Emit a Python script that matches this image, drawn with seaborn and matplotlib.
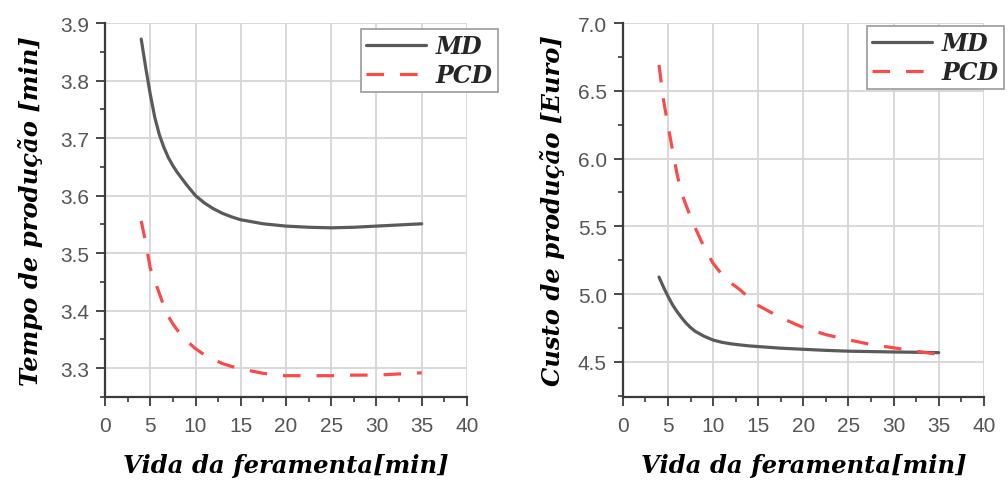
import matplotlib
matplotlib.use("Agg")
import matplotlib.pyplot as plt
from matplotlib.ticker import MultipleLocator
import seaborn as sns
import pandas as pd

# ---- data ----
x_vals = [4, 4.5, 5, 5.5, 6, 6.5, 7, 7.5, 8, 9, 10, 11, 12, 13, 14, 15, 17.5, 20, 22.5, 25, 27.5, 30, 32.5, 35]

tempo_md = [3.872, 3.822, 3.776, 3.736, 3.706, 3.684, 3.666, 3.652, 3.640, 3.619, 3.600, 3.587,
            3.577, 3.569, 3.563, 3.558, 3.551, 3.547, 3.545, 3.544, 3.545, 3.547, 3.549, 3.551]
tempo_pcd = [3.556, 3.518, 3.474, 3.452, 3.430, 3.408, 3.390, 3.377, 3.366, 3.348, 3.334, 3.323,
             3.315, 3.308, 3.303, 3.299, 3.291, 3.287, 3.287, 3.287, 3.288, 3.288, 3.290, 3.292]

custo_md = [5.125, 5.05, 4.982, 4.92, 4.87, 4.825, 4.785, 4.752, 4.725, 4.688, 4.660, 4.643,
            4.632, 4.624, 4.617, 4.612, 4.600, 4.592, 4.584, 4.578, 4.575, 4.572, 4.570, 4.567]
custo_pcd = [6.69, 6.43, 6.24, 6.06, 5.885, 5.745, 5.655, 5.568, 5.49, 5.345, 5.226, 5.142,
             5.08, 5.03, 4.97, 4.915, 4.825, 4.752, 4.700, 4.662, 4.627, 4.603, 4.577, 4.555]

series_names = ["MD", "PCD"]
x_label = "Vida da feramenta[min]"
y_labels = ["Tempo de produção [min]", "Custo de produção [Euro]"]

x_ticks = [0, 5, 10, 15, 20, 25, 30, 35, 40]
y_ticks_left = [3.3, 3.4, 3.5, 3.6, 3.7, 3.8, 3.9]
y_ticks_right = [4.5, 5.0, 5.5, 6.0, 6.5, 7.0]

# ---- build tidy tables ----
def tidy(md, pcd):
    return pd.DataFrame({
        "x": x_vals + x_vals,
        "y": md + pcd,
        "serie": [series_names[0]] * len(x_vals) + [series_names[1]] * len(x_vals),
    })

df_left = tidy(tempo_md, tempo_pcd)
df_right = tidy(custo_md, custo_pcd)

sns.set_theme(style="whitegrid")
plt.rcParams["font.family"] = ["Liberation Sans", "DejaVu Sans"]

fig = plt.figure(figsize=(10.08, 4.81), dpi=100)
ax1 = fig.add_axes([0.1042, 0.1726, 0.359, 0.7775])
ax2 = fig.add_axes([0.618, 0.1726, 0.358, 0.7775])

palette = {"MD": "#5a5a5a", "PCD": "#f84c4c"}
dashes = {"MD": "", "PCD": (5.5, 5)}

label_font = dict(family="DejaVu Serif", weight="bold", style="italic", size=17.5, color="black")

for ax, df, ylab, yticks, ylim, minor_y, lpad, leg_anchor in [
    (ax1, df_left, y_labels[0], y_ticks_left, (3.25, 3.9), 0.05, 12, (1.0856, 0.984)),
    (ax2, df_right, y_labels[1], y_ticks_right, (4.24, 7.0), 0.25, 9, (1.0554, 0.992)),
]:
    sns.lineplot(data=df, x="x", y="y", hue="serie", style="serie",
                 palette=palette, dashes=dashes, linewidth=2.3, ax=ax, legend=True)
    ax.set_xlim(0, 40)
    ax.set_ylim(*ylim)
    ax.set_xticks(x_ticks)
    ax.set_yticks(yticks)
    ax.set_yticklabels([f"{v:.1f}" for v in yticks])
    ax.xaxis.set_minor_locator(MultipleLocator(2.5))
    ax.yaxis.set_minor_locator(MultipleLocator(minor_y))
    ax.grid(True, which="major", color="#d6d6d6", linewidth=1.3)
    ax.grid(False, which="minor")
    ax.set_facecolor("white")
    for s in ["top", "right"]:
        ax.spines[s].set_visible(False)
    for s in ["left", "bottom"]:
        ax.spines[s].set_visible(True)
        ax.spines[s].set_color("#3a3a3a")
        ax.spines[s].set_linewidth(1.6)
    ax.tick_params(axis="both", which="major", direction="out", length=6.5, width=1.3,
                   color="#3a3a3a", labelsize=15, labelcolor="#555555", bottom=True, left=True)
    ax.tick_params(axis="both", which="minor", direction="out", length=3.5, width=1.2,
                   color="#3a3a3a", bottom=True, left=True)
    ax.tick_params(axis="x", which="major", pad=7)
    ax.tick_params(axis="y", which="major", pad=5)
    ax.set_xlabel(x_label, fontdict=label_font, labelpad=13)
    ax.set_ylabel(ylab, fontdict=label_font, labelpad=lpad)

    handles, labels = ax.get_legend_handles_labels()
    leg = ax.legend(handles, labels, loc="upper right", bbox_to_anchor=leg_anchor,
                    frameon=True, fancybox=False, handlelength=2.55, handletextpad=0.4,
                    borderpad=0.22, labelspacing=0.2, borderaxespad=0,
                    prop=dict(family="DejaVu Serif", weight="bold", style="italic", size=17))
    leg.get_frame().set_edgecolor("#9a9a9a")
    leg.get_frame().set_linewidth(1.2)
    leg.get_frame().set_alpha(1)
    leg.set_clip_on(False)

fig.savefig("out.png", dpi=100, facecolor="white")
